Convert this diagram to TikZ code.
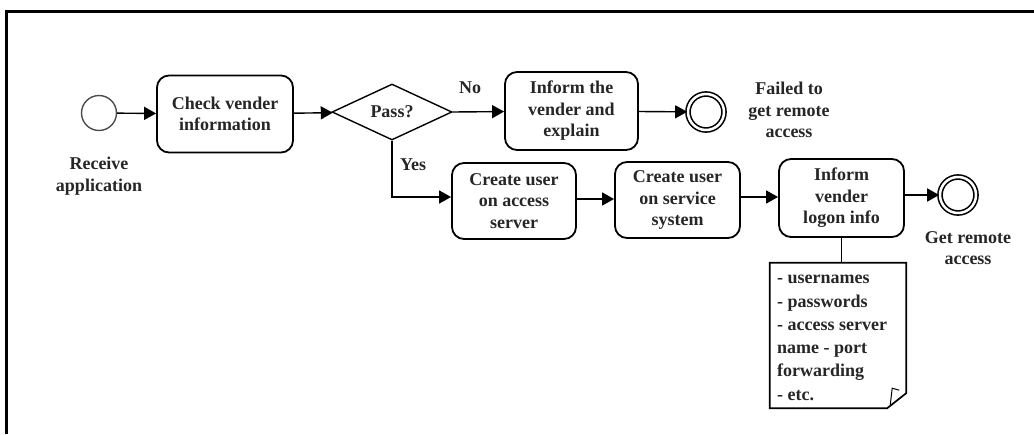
\documentclass[tikz,border=0pt]{standalone}
\usepackage{fontspec}
\setmainfont{Liberation Serif}
\usetikzlibrary{shapes.geometric,arrows.meta}
\begin{document}
\begin{tikzpicture}[x=1pt,y=-1pt,
  every node/.style={font=\fontsize{18}{21.5}\selectfont\bfseries, color=black!85},
  task/.style={draw=black, line width=1.8pt, rounded corners=12pt, align=center, inner sep=0pt},
  gate/.style={draw=black, line width=1.4pt, diamond, inner sep=0pt, minimum width=120pt, minimum height=56pt},
  startev/.style={draw=black!70, line width=1.4pt, circle, inner sep=0pt, minimum size=35pt},
  endev/.style={draw=black, line width=1.6pt, double=white, double distance=2.5pt, circle, inner sep=0pt, minimum size=36pt},
  lbl/.style={align=center, inner sep=0pt},
  flow/.style={line width=1.4pt, -{Triangle[length=12pt,width=13pt]}},
  assoc/.style={line width=1.4pt}
]
\useasboundingbox (0,0) rectangle (1034,434);
\draw[line width=3pt] (6,434) -- (6,11.5) -- (1034,11.5);

\node[startev] (start) at (99,113) {};
\node[lbl] (startl) at (99,176) {Receive\\application};

\node[task, minimum width=136pt, minimum height=77pt] (check) at (225,114) {Check vender\\information};
\node[gate] (pass) at (392,112) {Pass?};

\node[task, minimum width=133pt, minimum height=78pt] (inform) at (571.5,111) {Inform the\\vender and\\explain};
\node[endev] (fail) at (706,112) {};
\node[lbl] (faill) at (789,110) {Failed to\\get remote\\access};

\node[task, minimum width=124pt, minimum height=76pt] (cua) at (514,201) {Create user\\on access\\server};
\node[task, minimum width=125pt, minimum height=76pt] (cus) at (677.5,200) {Create user\\on service\\system};
\node[task, minimum width=125pt, minimum height=78pt] (ivl) at (841.5,198) {Inform\\vender\\logon info};
\node[endev] (ok) at (958,195) {};
\node[lbl] (okl) at (968,248) {Get remote\\access};

\node[inner sep=0pt, minimum width=136pt, minimum height=145pt] (note) at (838,335.5) {};
\node[lbl, align=left, anchor=north west, font=\fontsize{18}{23.3}\selectfont\bfseries] (notet) at (777,275) {- usernames\\- passwords\\- access server\\name - port\\forwarding\\- etc.};
\draw[line width=1.7pt] (note.north west) -- (note.north east) -- ([yshift=15pt]note.south east) -- ([xshift=-19pt]note.south east) -- (note.south west) -- cycle;
\draw[line width=1pt] ([xshift=-16pt,yshift=3pt]note.south east) -- ([xshift=-14pt,yshift=20pt]note.south east) -- ([xshift=-7pt,yshift=18pt]note.south east);

\node (nol) at (470,88) {No};
\node (yesl) at (413,165) {Yes};

\draw[flow] (start) -- (check);
\draw[flow] (check) -- (pass);
\draw[flow] (pass.east) -- (inform);
\draw[flow] (inform) -- (fail);
\draw[flow] (pass.south) |- (cua.west |- 0,197);
\draw[flow] (cua.east |- 0,199) -- (cus.west |- 0,199);
\draw[flow] (cus.east |- 0,197) -- (ivl.west |- 0,197);
\draw[flow] (ivl.east |- ok) -- (ok);
\draw[assoc] (ivl.south) -- (note.north -| ivl.south);
\end{tikzpicture}
\end{document}
